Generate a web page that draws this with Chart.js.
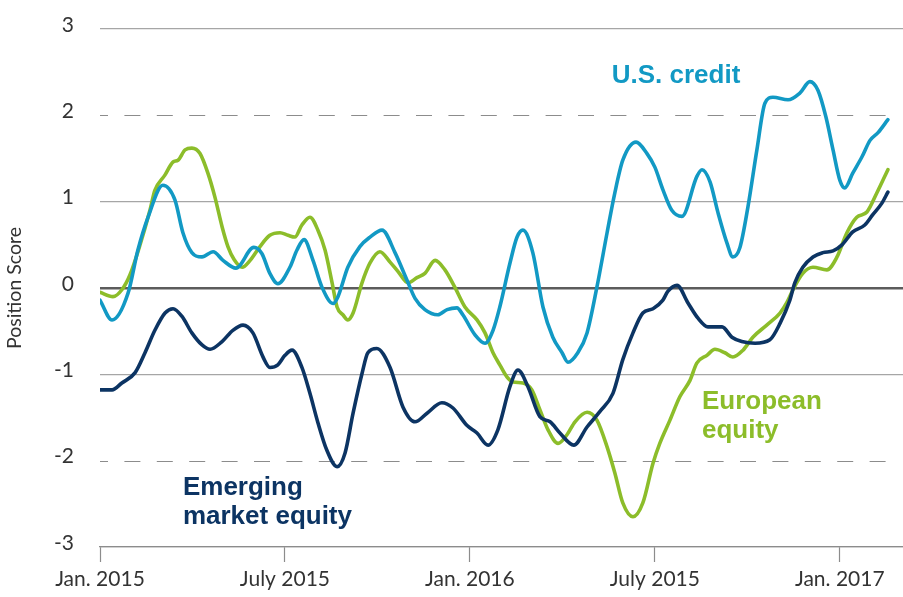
<!DOCTYPE html>
<html>
<head>
<meta charset="utf-8">
<script src="https://cdn.jsdelivr.net/npm/chart.js@4.4.1/dist/chart.umd.min.js"></script>
<style>
  html, body { margin: 0; padding: 0; background: #ffffff; }
  #wrap { width: 903px; height: 597px; }
</style>
</head>
<body>
<div id="wrap"><canvas id="chart" width="903" height="597"></canvas></div>
<script>
// x values are months since Jan. 2015
const xTickValues = [0, 6, 12, 18, 24];
const xTickLabels = ['Jan. 2015', 'July 2015', 'Jan. 2016', 'July 2015', 'Jan. 2017'];

const creditMonths = [0, 0.39, 0.91, 1.23, 1.56, 2.04, 2.43, 2.69, 2.98, 3.31, 3.67, 3.99, 4.41, 4.99, 5.25, 5.51, 5.77, 6.16, 6.39, 6.62, 6.91, 7.2, 7.56, 7.72, 8.04, 8.43, 8.76, 9.15, 9.57, 9.96, 10.22, 10.54, 10.96, 11.26, 11.58, 11.77, 12.16, 12.49, 12.75, 12.97, 13.3, 13.53, 13.72, 14.04, 14.37, 14.69, 14.99, 15.18, 15.5, 15.8, 16.12, 16.45, 16.7, 16.96, 17.39, 17.74, 18.0, 18.26, 18.55, 18.88, 19.36, 19.53, 19.79, 20.05, 20.34, 20.53, 20.76, 21.02, 21.31, 21.57, 21.83, 22.32, 22.71, 23.03, 23.29, 23.55, 23.78, 24.0, 24.16, 24.42, 24.72, 24.98, 25.24, 25.56];
const creditScores = [-0.14, -0.37, -0.06, 0.44, 0.82, 1.19, 1.02, 0.64, 0.41, 0.36, 0.42, 0.32, 0.23, 0.47, 0.40, 0.17, 0.05, 0.24, 0.44, 0.56, 0.32, 0.01, -0.18, -0.10, 0.24, 0.48, 0.59, 0.67, 0.41, 0.09, -0.12, -0.25, -0.31, -0.25, -0.23, -0.31, -0.54, -0.64, -0.49, -0.22, 0.29, 0.59, 0.67, 0.41, -0.22, -0.57, -0.75, -0.86, -0.75, -0.52, 0.01, 0.64, 1.10, 1.48, 1.69, 1.56, 1.40, 1.14, 0.90, 0.83, 1.29, 1.37, 1.23, 0.87, 0.52, 0.36, 0.47, 0.94, 1.60, 2.14, 2.21, 2.18, 2.26, 2.39, 2.29, 1.98, 1.60, 1.25, 1.16, 1.33, 1.52, 1.71, 1.80, 1.95];

const euroMonths = [0, 0.42, 0.71, 0.97, 1.30, 1.62, 1.78, 2.11, 2.37, 2.53, 2.76, 2.98, 3.24, 3.50, 3.73, 3.96, 4.15, 4.35, 4.61, 4.87, 5.19, 5.51, 5.84, 6.10, 6.32, 6.55, 6.81, 7.07, 7.30, 7.53, 7.69, 7.88, 8.04, 8.21, 8.50, 8.76, 9.08, 9.41, 9.67, 9.99, 10.28, 10.54, 10.87, 11.19, 11.51, 11.84, 12.23, 12.49, 12.75, 12.97, 13.20, 13.40, 13.72, 14.01, 14.27, 14.53, 14.86, 15.15, 15.41, 15.80, 16.12, 16.45, 16.70, 16.96, 17.29, 17.61, 17.94, 18.16, 18.49, 18.81, 19.14, 19.36, 19.69, 19.95, 20.27, 20.53, 20.86, 21.18, 21.63, 22.06, 22.28, 22.48, 22.80, 23.13, 23.58, 23.91, 24.23, 24.55, 24.88, 25.20, 25.56];
const euroScores = [-0.05, -0.10, -0.02, 0.15, 0.50, 0.90, 1.13, 1.31, 1.46, 1.48, 1.60, 1.62, 1.56, 1.33, 1.05, 0.71, 0.48, 0.33, 0.24, 0.32, 0.48, 0.61, 0.64, 0.61, 0.59, 0.73, 0.82, 0.67, 0.44, 0.06, -0.22, -0.31, -0.37, -0.29, 0.06, 0.29, 0.42, 0.30, 0.19, 0.06, 0.12, 0.17, 0.32, 0.21, 0.01, -0.22, -0.37, -0.52, -0.75, -0.89, -1.03, -1.09, -1.10, -1.18, -1.41, -1.64, -1.80, -1.70, -1.55, -1.44, -1.53, -1.84, -2.14, -2.49, -2.65, -2.49, -2.03, -1.80, -1.53, -1.26, -1.07, -0.87, -0.78, -0.71, -0.75, -0.80, -0.72, -0.57, -0.43, -0.29, -0.17, -0.02, 0.17, 0.24, 0.21, 0.36, 0.64, 0.82, 0.88, 1.10, 1.37];

const emMonths = [0, 0.39, 0.71, 1.14, 1.46, 1.78, 2.11, 2.37, 2.66, 2.98, 3.31, 3.57, 3.96, 4.31, 4.64, 4.96, 5.29, 5.51, 5.77, 6.00, 6.23, 6.55, 6.81, 7.07, 7.36, 7.69, 7.95, 8.21, 8.50, 8.69, 8.98, 9.41, 9.83, 10.22, 10.61, 11.09, 11.45, 11.90, 12.23, 12.59, 12.91, 13.30, 13.56, 13.88, 14.27, 14.60, 14.92, 15.37, 15.80, 16.22, 16.64, 16.96, 17.29, 17.61, 17.94, 18.26, 18.42, 18.72, 19.07, 19.40, 19.72, 20.18, 20.50, 20.82, 21.25, 21.73, 22.06, 22.38, 22.54, 22.80, 23.13, 23.45, 23.78, 24.07, 24.42, 24.81, 25.07, 25.36, 25.56];
const emScores = [-1.18, -1.18, -1.10, -0.98, -0.75, -0.49, -0.29, -0.24, -0.33, -0.52, -0.66, -0.71, -0.62, -0.49, -0.43, -0.52, -0.80, -0.92, -0.89, -0.78, -0.72, -0.92, -1.22, -1.56, -1.88, -2.07, -1.91, -1.45, -0.99, -0.75, -0.70, -0.92, -1.38, -1.55, -1.45, -1.33, -1.39, -1.59, -1.68, -1.82, -1.64, -1.14, -0.95, -1.14, -1.49, -1.55, -1.68, -1.82, -1.61, -1.43, -1.22, -0.83, -0.52, -0.29, -0.24, -0.14, -0.04, 0.03, -0.17, -0.35, -0.45, -0.45, -0.57, -0.62, -0.64, -0.60, -0.41, -0.14, 0.06, 0.24, 0.36, 0.41, 0.43, 0.50, 0.65, 0.73, 0.85, 0.98, 1.11];

const dashedLevels = [2, -2];

const creditColor = '#1299c4';
const euroColor = '#8cbd2a';
const emColor = '#0c3463';

const pairs = (xs, ys) => xs.map((x, i) => ({ x: x, y: ys[i] }));

// series names drawn next to the lines
const callouts = [
    { lines: ['U.S. credit'], color: creditColor, month: 16.6, score: 2.46 },
    { lines: ['Emerging', 'market equity'], color: emColor, month: 2.69, score: -2.32 },
    { lines: ['European', 'equity'], color: euroColor, month: 19.53, score: -1.32 }
];

const guidePlugin = {
    id: 'guides',
    beforeDatasetsDraw(chart) {
        const { ctx, chartArea, scales } = chart;
        ctx.save();
        ctx.strokeStyle = '#8c8c8c';
        ctx.lineWidth = 1.2;
        ctx.setLineDash([16, 16.4]);
        ctx.lineDashOffset = 8;
        dashedLevels.forEach(v => {
            const py = Math.round(scales.y.getPixelForValue(v)) + 0.5;
            ctx.beginPath();
            ctx.moveTo(chartArea.left, py);
            ctx.lineTo(chartArea.right - 14, py);
            ctx.stroke();
        });
        ctx.restore();
    },
    afterDatasetsDraw(chart) {
        const { ctx, scales } = chart;
        ctx.save();
        ctx.font = 'bold 26px "Liberation Sans", Arial, sans-serif';
        ctx.textBaseline = 'middle';
        ctx.textAlign = 'left';
        callouts.forEach(c => {
            const px = scales.x.getPixelForValue(c.month);
            const py = scales.y.getPixelForValue(c.score);
            ctx.fillStyle = c.color;
            c.lines.forEach((line, i) => ctx.fillText(line, px, py + i * 29));
        });
        ctx.restore();
    }
};

const tickFont = { family: 'Lato', size: 21 };

new Chart(document.getElementById('chart'), {
    type: 'line',
    data: {
        datasets: [
            { label: 'Emerging market equity', data: pairs(emMonths, emScores), borderColor: emColor },
            { label: 'U.S. credit', data: pairs(creditMonths, creditScores), borderColor: creditColor },
            { label: 'European equity', data: pairs(euroMonths, euroScores), borderColor: euroColor }
        ]
    },
    options: {
        responsive: false,
        animation: false,
        layout: { padding: { top: 29, right: 0, bottom: 0, left: 0 } },
        elements: {
            point: { radius: 0 },
            line: { borderWidth: 3.6, cubicInterpolationMode: 'monotone', borderCapStyle: 'round', borderJoinStyle: 'round', fill: false }
        },
        plugins: {
            legend: { display: false },
            tooltip: { enabled: false }
        },
        scales: {
            x: {
                type: 'linear',
                min: 0,
                max: 26.05,
                afterFit: s => { s.height = 50; },
                afterBuildTicks: s => { s.ticks = xTickValues.map(v => ({ value: v })); },
                border: { display: true, color: '#8c8c8c', width: 1.2 },
                grid: { drawOnChartArea: false, drawTicks: true, tickLength: 15, tickColor: '#8c8c8c', tickWidth: 1.2 },
                ticks: {
                    autoSkip: false,
                    maxRotation: 0,
                    padding: 5,
                    color: '#333333',
                    font: tickFont,
                    callback: (v, i) => xTickLabels[i]
                }
            },
            y: {
                min: -3,
                max: 3,
                afterFit: s => { s.width = 100; s.paddingTop = 0; s.paddingBottom = 0; },
                border: { display: false },
                grid: {
                    drawTicks: false,
                    color: c => c.tick.value === 0 ? '#5c5c5c' : (Math.abs(c.tick.value) === 2 ? 'rgba(0,0,0,0)' : '#a6a6a6'),
                    lineWidth: c => c.tick.value === 0 ? 2.6 : 1.2
                },
                ticks: {
                    stepSize: 1,
                    padding: 26,
                    labelOffset: -4,
                    color: '#333333',
                    font: tickFont
                },
                title: {
                    display: true,
                    text: 'Position Score',
                    color: '#333333',
                    font: { family: 'Lato', size: 19.5 },
                    padding: { top: 3, bottom: 0 }
                }
            }
        }
    },
    plugins: [guidePlugin]
});
</script>
</body>
</html>
